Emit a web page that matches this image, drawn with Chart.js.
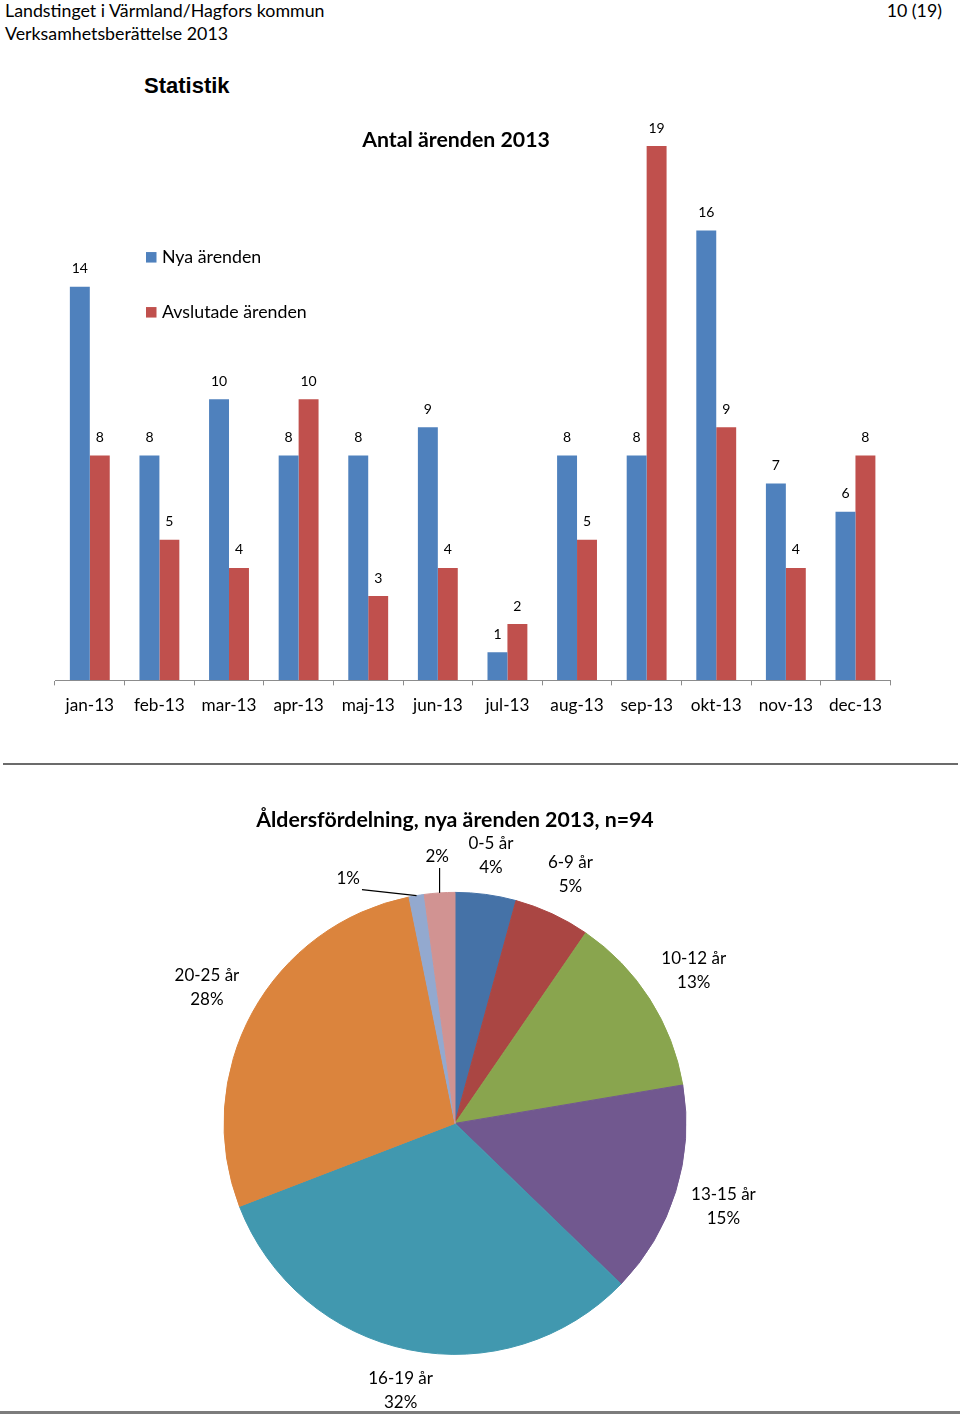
<!DOCTYPE html>
<html><head><meta charset="utf-8">
<script src="https://cdn.jsdelivr.net/npm/chart.js@4.4.1/dist/chart.umd.min.js"></script>
<style>
html,body{margin:0;padding:0;background:#fff;}
body{width:960px;height:1416px;position:relative;overflow:hidden;font-family:Lato,"Noto Sans",sans-serif;color:#000;}
.t{position:absolute;white-space:nowrap;}
.box{position:absolute;}
</style></head><body>
<div class="t" style="left:5px;top:0px;font-size:17.8px;line-height:20px;">Landstinget i Värmland/Hagfors kommun</div>
<div class="t" style="right:18px;top:0px;font-size:17.8px;line-height:20px;">10 (19)</div>
<div class="t" style="left:5px;top:23px;font-size:17.8px;line-height:20px;">Verksamhetsberättelse 2013</div>
<div class="t" style="left:144px;top:73px;font-family:'Liberation Sans',Arial,sans-serif;font-weight:bold;font-size:22px;line-height:26px;">Statistik</div>
<div class="box" style="left:3px;top:763px;width:955px;height:2px;background:#6b6b6b"></div>
<div class="box" style="left:0;top:1411px;width:960px;height:3px;background:#7c7c7c"></div>
<div class="box" style="left:20px;top:108px;width:872px;height:618px;"><canvas id="bar"></canvas></div>
<div class="box" style="left:0px;top:807px;width:910px;height:607px;"><canvas id="pie"></canvas></div>
<script>
// ---- data ----
const months = ['jan-13','feb-13','mar-13','apr-13','maj-13','jun-13','jul-13','aug-13','sep-13','okt-13','nov-13','dec-13'];
const nyaArenden = [14, 8, 10, 8, 8, 9, 1, 8, 8, 16, 7, 6];
const avslutadeArenden = [8, 5, 4, 10, 3, 4, 2, 5, 19, 9, 4, 8];
const seriesNames = ['Nya ärenden', 'Avslutade ärenden'];
const barTitle = 'Antal ärenden 2013';

const ageGroups = ['0-5 år', '6-9 år', '10-12 år', '13-15 år', '16-19 år', '20-25 år', '', ''];
const ageCounts = [4, 5, 12, 14, 30, 26, 1, 2];
const pieTitle = 'Åldersfördelning, nya ärenden 2013, n=94';

// ---- styles ----
const FONT = 'Lato';
const barColors = ['#4F81BD', '#C0504D'];
const pieColors = ['#4572A7', '#AA4643', '#89A54E', '#71588F', '#4198AF', '#DB843D', '#93A9CF', '#D19392'];

const barValueLabels = {
  id: 'barValueLabels',
  afterDatasetsDraw(chart) {
    const ctx = chart.ctx;
    ctx.save();
    ctx.font = '14px ' + FONT;
    ctx.fillStyle = '#000';
    ctx.textAlign = 'center';
    ctx.textBaseline = 'middle';
    chart.data.datasets.forEach((ds, i) => {
      chart.getDatasetMeta(i).data.forEach((bar, j) => {
        ctx.fillText(String(ds.data[j]), bar.x, bar.y - 18);
      });
    });
    ctx.restore();
  }
};

const insideLegend = {
  id: 'insideLegend',
  afterDraw(chart) {
    const { ctx, chartArea } = chart;
    ctx.save();
    ctx.font = '17.8px ' + FONT;
    ctx.textBaseline = 'middle';
    ctx.textAlign = 'left';
    chart.data.datasets.forEach((ds, i) => {
      const x = chartArea.left + 91;
      const y = chartArea.top + 111 + i * 55;
      ctx.fillStyle = ds.backgroundColor;
      ctx.fillRect(x, y - 5, 10.5, 10.5);
      ctx.fillStyle = '#000';
      ctx.fillText(ds.label, x + 16, y);
    });
    ctx.restore();
  }
};

new Chart(document.getElementById('bar'), {
  type: 'bar',
  data: {
    labels: months,
    datasets: [
      { label: seriesNames[0], data: nyaArenden, backgroundColor: barColors[0] },
      { label: seriesNames[1], data: avslutadeArenden, backgroundColor: barColors[1] }
    ]
  },
  options: {
    responsive: true, maintainAspectRatio: false, animation: false,
    layout: { padding: { left: 0, right: 0, top: 19, bottom: 0 } },
    datasets: { bar: { categoryPercentage: 0.573, barPercentage: 1.0 } },
    plugins: {
      legend: { display: false },
      tooltip: { enabled: false },
      title: { display: true, text: barTitle, color: '#000',
        font: { family: FONT, size: 21.3, weight: 'bold' }, padding: { top: 0, bottom: -6.5 } }
    },
    scales: {
      x: {
        grid: { display: true, drawOnChartArea: false, drawTicks: true, tickLength: 5, color: '#8c8c8c', offset: true },
        border: { display: true, color: '#8c8c8c', width: 1 },
        ticks: { font: { family: FONT, size: 17.2 }, color: '#000', padding: 10, maxRotation: 0, autoSkip: false }
      },
      y: {
        display: true, min: 0, max: 19,
        grid: { display: false }, border: { display: false }, ticks: { display: false },
        afterFit(scale) { scale.width = 35; }
      }
    }
  },
  plugins: [barValueLabels, insideLegend]
});

const pieLabels = {
  id: 'pieLabels',
  afterDraw(chart) {
    const ctx = chart.ctx;
    const meta = chart.getDatasetMeta(0);
    const ds = chart.data.datasets[0];
    const total = ds.data.reduce((a, b) => a + b, 0);
    const angleNudge = { 6: -14 }; // degrees, to avoid collision of small-slice labels
    ctx.save();
    ctx.font = '17px ' + FONT;
    ctx.fillStyle = '#000';
    ctx.strokeStyle = '#000';
    ctx.lineWidth = 1.2;
    ctx.textAlign = 'center';
    ctx.textBaseline = 'middle';
    const lh = 24;
    meta.data.forEach((arc, i) => {
      const name = chart.data.labels[i];
      const frac = ds.data[i] / total;
      const pct = Math.round(frac * 100) + '%';
      const lines = name ? [name, pct] : [pct];
      const mid = (arc.startAngle + arc.endAngle) / 2;
      const r = arc.outerRadius;
      const cx = arc.x, cy = arc.y;
      const hw = Math.max(...lines.map(s => ctx.measureText(s).width)) / 2;
      const hh = lines.length * lh / 2;
      let tx, ty;
      if (frac < 0.03) {
        const a = mid + (angleNudge[i] || 0) * Math.PI / 180;
        const d = r + 36;
        tx = cx + Math.cos(a) * d; ty = cy + Math.sin(a) * d;
        const ex = cx + Math.cos(mid) * r, ey = cy + Math.sin(mid) * r;
        const bx = Math.min(Math.max(ex, tx - hw - 2), tx + hw + 2);
        const by = Math.min(Math.max(ey, ty - hh + 1), ty + hh - 1);
        ctx.beginPath(); ctx.moveTo(bx, by); ctx.lineTo(ex, ey); ctx.stroke();
      } else {
        const ext = Math.abs(Math.cos(mid)) * hw + Math.abs(Math.sin(mid)) * hh;
        const d = r + 12 + ext;
        tx = cx + Math.cos(mid) * d; ty = cy + Math.sin(mid) * d;
      }
      lines.forEach((s, k) => {
        ctx.fillText(s, tx, ty - hh + lh / 2 + k * lh);
      });
    });
    ctx.restore();
  }
};

new Chart(document.getElementById('pie'), {
  type: 'pie',
  data: {
    labels: ageGroups,
    datasets: [{ data: ageCounts, backgroundColor: pieColors, borderColor: pieColors, borderWidth: 1, radius: 231 }]
  },
  options: {
    responsive: true, maintainAspectRatio: false, animation: false,
    layout: { padding: 0 },
    plugins: {
      legend: { display: false },
      tooltip: { enabled: false },
      title: { display: true, text: pieTitle, color: '#000',
        font: { family: FONT, size: 21.3, weight: 'bold' }, padding: { top: 0.2, bottom: 0 } }
    }
  },
  plugins: [pieLabels]
});
</script>
</body></html>
